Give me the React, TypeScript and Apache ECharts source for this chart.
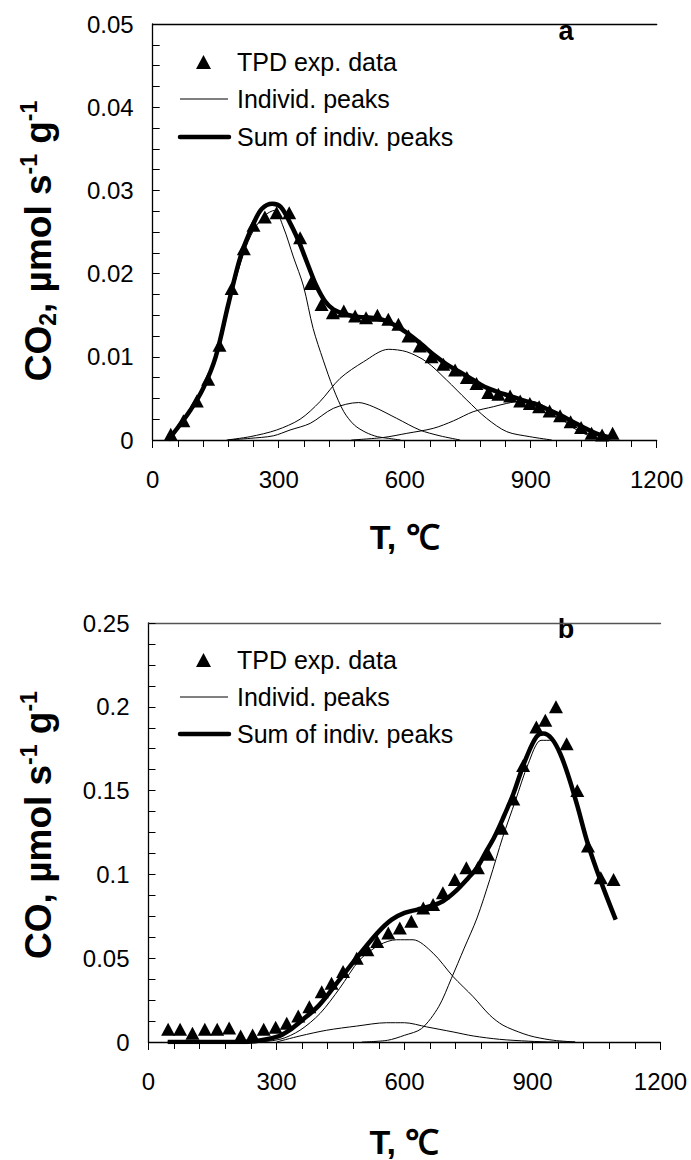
import React, { useEffect, useRef } from "react";
import * as echarts from "echarts";

// ---------- Chart a (CO2) ----------
const expA_T = [43, 73, 105, 132, 159, 188, 217, 240, 267, 295, 325, 351, 376, 402, 429, 455, 482, 508, 535, 561, 585, 609, 636, 664, 692, 720, 748, 771, 799, 823, 851, 875, 898, 920, 945, 970, 995, 1020, 1045, 1070, 1095];
const expA_V = [0.0007, 0.0023, 0.0047, 0.0073, 0.0114, 0.0182, 0.023, 0.0258, 0.0268, 0.0273, 0.0273, 0.0243, 0.0188, 0.0163, 0.0153, 0.0155, 0.0149, 0.0147, 0.015, 0.0145, 0.0139, 0.0125, 0.0113, 0.01, 0.0091, 0.0084, 0.0075, 0.0068, 0.0057, 0.0055, 0.0053, 0.0047, 0.0044, 0.004, 0.0035, 0.0029, 0.0022, 0.0015, 0.0008, 0.0006, 0.0008];

const sumA_T = [37, 60, 90, 120, 150, 180, 210, 240, 260, 285, 305, 330, 350, 370, 390, 410, 430, 460, 490, 520, 550, 580, 610, 640, 670, 700, 730, 760, 790, 820, 850, 880, 910, 940, 970, 1000, 1030, 1060, 1090];
const sumA_V = [0, 0.0015, 0.0036, 0.0062, 0.01, 0.0163, 0.0222, 0.026, 0.0278, 0.0284, 0.028, 0.0258, 0.0236, 0.021, 0.0185, 0.0167, 0.0157, 0.0151, 0.0148, 0.0147, 0.0144, 0.0137, 0.0127, 0.0115, 0.0102, 0.0091, 0.0082, 0.0073, 0.0064, 0.0058, 0.0053, 0.0048, 0.0043, 0.0037, 0.003, 0.0022, 0.0014, 0.0007, 0.0003];

const pkA1_T = [40, 73, 105, 132, 159, 188, 217, 240, 267, 290, 311, 335, 359, 382, 406, 430, 455, 480, 508, 535, 561, 590];
const pkA1_V = [0.0005, 0.0022, 0.0046, 0.0073, 0.0112, 0.0175, 0.0225, 0.0252, 0.027, 0.0276, 0.0256, 0.022, 0.0185, 0.0134, 0.0096, 0.0062, 0.0034, 0.0018, 0.0009, 0.0004, 0.0002, 0];

const pkA2_T = [176, 232, 295, 351, 398, 446, 502, 561, 605, 652, 700, 748, 795, 843, 898, 950];
const pkA2_V = [0, 0.0004, 0.0012, 0.0025, 0.0046, 0.0074, 0.0094, 0.0109, 0.0106, 0.0094, 0.0072, 0.0048, 0.0026, 0.001, 0.0004, 0];

const pkA3_T = [180, 232, 287, 327, 375, 430, 490, 525, 581, 636, 684, 732];
const pkA3_V = [0, 0.0002, 0.0005, 0.0012, 0.002, 0.0038, 0.0045, 0.004, 0.0026, 0.0012, 0.0005, 0];

const pkA4_T = [473, 549, 605, 668, 716, 763, 811, 843, 880, 910, 950, 1000, 1050, 1090];
const pkA4_V = [0, 0.0003, 0.0008, 0.0014, 0.0023, 0.0034, 0.004, 0.0044, 0.0047, 0.0046, 0.0035, 0.0015, 0.0003, 0];

// ---------- Chart b (CO) ----------
const expB_T = [46, 74, 103, 132, 161, 189, 216, 244, 270, 298, 324, 351, 377, 406, 429, 456, 488, 513, 536, 562, 589, 616, 644, 667, 690, 718, 745, 772, 796, 828, 855, 878, 909, 930, 955, 980, 1005, 1030, 1060, 1090];
const expB_V = [0.0076, 0.0076, 0.0052, 0.0076, 0.0076, 0.0083, 0.0036, 0.0042, 0.0076, 0.0088, 0.0112, 0.0155, 0.021, 0.03, 0.035, 0.042, 0.05, 0.055, 0.06, 0.065, 0.068, 0.072, 0.08, 0.082, 0.089, 0.097, 0.104, 0.104, 0.112, 0.1275, 0.145, 0.165, 0.188, 0.192, 0.2, 0.178, 0.15, 0.117, 0.098, 0.097];

const sumB_T = [45, 100, 150, 200, 250, 300, 330, 360, 400, 450, 500, 540, 570, 600, 630, 660, 690, 720, 750, 770, 790, 810, 830, 855, 870, 886, 909, 925, 945, 965, 985, 1005, 1030, 1060, 1095];
const sumB_V = [0, 0, 0, 0, 0.0005, 0.003, 0.007, 0.013, 0.022, 0.038, 0.054, 0.066, 0.073, 0.077, 0.079, 0.081, 0.084, 0.09, 0.098, 0.104, 0.113, 0.122, 0.133, 0.148, 0.159, 0.17, 0.182, 0.184, 0.181, 0.172, 0.158, 0.141, 0.118, 0.096, 0.073];

const pkB1_T = [45, 238, 308, 355, 402, 448, 495, 542, 581, 620, 667, 714, 761, 800, 831, 878, 905, 950, 1000];
const pkB1_V = [0, 0, 0.0016, 0.007, 0.017, 0.032, 0.049, 0.058, 0.061, 0.061, 0.053, 0.039, 0.027, 0.016, 0.01, 0.005, 0.003, 0.001, 0];

const pkB2_T = [300, 355, 417, 488, 558, 600, 652, 714, 761, 823, 890, 950, 1000];
const pkB2_V = [0, 0.0036, 0.007, 0.0095, 0.0115, 0.0115, 0.009, 0.006, 0.0036, 0.0016, 0.0005, 0, 0];

const pkB3_T = [500, 560, 600, 640, 680, 710, 740, 770, 800, 830, 860, 890, 920, 945, 965, 985, 1005, 1030, 1060, 1095];
const pkB3_V = [0, 0.001, 0.004, 0.008, 0.021, 0.038, 0.056, 0.074, 0.097, 0.122, 0.144, 0.166, 0.18, 0.18, 0.172, 0.158, 0.141, 0.118, 0.096, 0.073];

const xTicks = [0, 300, 600, 900, 1200];
const NAME_EXP = "TPD exp. data";
const NAME_IND = "Individ. peaks";
const NAME_SUM = "Sum of indiv. peaks";
const legendNames = [NAME_EXP, NAME_IND, NAME_SUM];

const FONT = "'Liberation Sans', Arial, Helvetica, sans-serif";
const zip = (t: number[], v: number[]) => t.map((x, i) => [x, v[i]]);

function xAxes(grid: number) {
  return [
    {
      gridIndex: grid,
      type: "value",
      min: xTicks[0],
      max: xTicks[xTicks.length - 1],
      interval: 300,
      axisLine: { onZero: false, lineStyle: { color: "#000", width: 1.3 } },
      axisTick: { show: true, inside: false, length: 8, lineStyle: { color: "#000", width: 1 } },
      minorTick: { show: true, splitNumber: 5, length: 7, lineStyle: { color: "#000", width: 1 } },
      splitLine: { show: false },
      axisLabel: {
        fontSize: 24,
        color: "#000",
        fontFamily: FONT,
        margin: 27,
        formatter: (v: number) => String(v),
      },
      name: "T, ℃",
      nameLocation: "middle",
      nameGap: grid === 0 ? 80 : 83,
      nameTextStyle: { fontSize: 34, fontWeight: "bold", color: "#000", fontFamily: FONT },
    },
    {
      gridIndex: grid,
      type: "value",
      position: "top",
      min: 0,
      max: 1200,
      axisLine: { show: true, onZero: false, lineStyle: { color: grid === 0 ? "#000" : "#555", width: 1.3 } },
      axisTick: { show: false },
      axisLabel: { show: false },
      splitLine: { show: false },
    },
  ];
}

function yAxis(grid: number, max: number, interval: number) {
  return {
    gridIndex: grid,
    type: "value",
    min: 0,
    max,
    interval,
    axisLine: { show: true, onZero: false, lineStyle: { color: "#000", width: 1.3 } },
    axisTick: { show: true, inside: true, length: 7, lineStyle: { color: "#000", width: 1 } },
    minorTick: { show: true, splitNumber: 4, length: 7, lineStyle: { color: "#000", width: 1 } },
    splitLine: { show: false },
    axisLabel: {
      fontSize: 24,
      color: "#000",
      fontFamily: FONT,
      margin: 19,
      formatter: (v: number) => (v === 0 ? "0" : String(parseFloat(v.toFixed(4)))),
    },
  };
}

function seriesFor(grid: number, exp: number[][], sum: number[][], peaks: number[][][]) {
  const xi = grid * 2;
  const yi = grid;
  const thin = peaks.map((d) => ({
    name: NAME_IND,
    type: "line",
    xAxisIndex: xi,
    yAxisIndex: yi,
    data: d,
    symbol: "none",
    smooth: 0.3,
    lineStyle: { color: "#000", width: 1 },
    itemStyle: { color: "#000" },
    z: 2,
  }));
  return [
    ...thin,
    {
      name: NAME_SUM,
      type: "line",
      xAxisIndex: xi,
      yAxisIndex: yi,
      data: sum,
      symbol: "none",
      smooth: 0.35,
      lineStyle: { color: "#000", width: 4.5 },
      itemStyle: { color: "#000" },
      z: 3,
    },
    {
      name: NAME_EXP,
      type: "scatter",
      xAxisIndex: xi,
      yAxisIndex: yi,
      data: exp,
      symbol: "triangle",
      symbolSize: [14, 13],
      itemStyle: { color: "#000", opacity: 1 },
      z: 4,
    },
  ];
}

// Legend drawn as graphic elements (key marks + labels)
function legendGraphic(cy: number[]) {
  const textStyle = (t: string) => ({
    text: t,
    fontSize: 25,
    fontFamily: FONT,
    fill: "#000",
    align: "left",
    verticalAlign: "middle",
  });
  return [
    {
      type: "polygon",
      shape: { points: [[196, cy[0] + 7], [203.5, cy[0] - 7], [211, cy[0] + 7]] },
      style: { fill: "#000" },
    },
    { type: "line", shape: { x1: 180, y1: cy[1], x2: 228, y2: cy[1] }, style: { stroke: "#000", lineWidth: 1 } },
    { type: "line", shape: { x1: 180, y1: cy[2], x2: 229, y2: cy[2] }, style: { stroke: "#000", lineWidth: 4.5, lineCap: "round" } },
    ...legendNames.map((n, i) => ({ type: "text", x: 237, y: cy[i], style: textStyle(n) })),
  ];
}

function yTitle(x: number, y: number, species: "CO2" | "CO") {
  const text =
    species === "CO2"
      ? "{m|CO}{sub|2}{m|, µmol s}{sup|-1}{m| g}{sup|-1}"
      : "{m|CO, µmol s}{sup|-1}{m| g}{sup|-1}";
  return {
    type: "text",
    x,
    y,
    rotation: Math.PI / 2,
    style: {
      text,
      align: "center",
      verticalAlign: "middle",
      rich: {
        m: { fontSize: 37, fontWeight: "bold", fontFamily: FONT, fill: "#000", lineHeight: 42 },
        sub: { fontSize: 23, fontWeight: "bold", fontFamily: FONT, fill: "#000", lineHeight: 23, verticalAlign: "bottom" },
        sup: { fontSize: 23, fontWeight: "bold", fontFamily: FONT, fill: "#000", lineHeight: 23, verticalAlign: "top" },
      },
    },
  };
}

export default function App() {
  const ref = useRef<HTMLDivElement>(null);
  useEffect(() => {
    if (!ref.current) return;
    const chart = echarts.init(ref.current, undefined, { renderer: "svg" });
    const option: any = {
      animation: false,
      backgroundColor: "#fff",
      textStyle: { fontFamily: FONT },
      grid: [
        { left: 152.7, top: 24, width: 504, height: 416 },
        { left: 148.5, top: 623, width: 512, height: 419 },
      ],
      xAxis: [...xAxes(0), ...xAxes(1)],
      yAxis: [yAxis(0, 0.05, 0.01), yAxis(1, 0.25, 0.05)],
      series: [
        ...seriesFor(0, zip(expA_T, expA_V), zip(sumA_T, sumA_V), [
          zip(pkA1_T, pkA1_V),
          zip(pkA2_T, pkA2_V),
          zip(pkA3_T, pkA3_V),
          zip(pkA4_T, pkA4_V),
        ]),
        ...seriesFor(1, zip(expB_T, expB_V), zip(sumB_T, sumB_V), [
          zip(pkB1_T, pkB1_V),
          zip(pkB2_T, pkB2_V),
          zip(pkB3_T, pkB3_V),
        ]),
      ],
      graphic: [
        ...legendGraphic([62, 99, 137]),
        ...legendGraphic([660, 697, 734]),
        yTitle(38, 241, "CO2"),
        yTitle(38, 825, "CO"),
        {
          type: "text",
          x: 566,
          y: 31,
          style: { text: "a", fontSize: 27, fontWeight: "bold", fontFamily: FONT, fill: "#000", align: "center", verticalAlign: "middle" },
        },
        {
          type: "text",
          x: 566,
          y: 629,
          style: { text: "b", fontSize: 27, fontWeight: "bold", fontFamily: FONT, fill: "#000", align: "center", verticalAlign: "middle" },
        },
      ],
    };
    chart.setOption(option);
    return () => chart.dispose();
  }, []);
  return <div ref={ref} style={{ position: "absolute", left: 0, top: 0, width: 691, height: 1160 }} />;
}
